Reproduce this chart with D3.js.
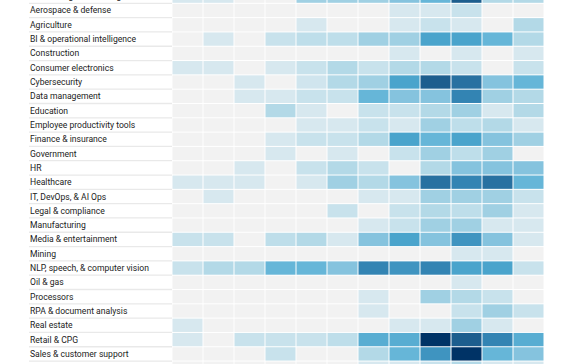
<!DOCTYPE html>
<html>
<head>
<meta charset="utf-8">
<script src="https://cdn.jsdelivr.net/npm/d3@7"></script>
<style>
  html, body { margin: 0; padding: 0; background: #fff; overflow: hidden; }
  svg { display: block; }
</style>
</head>
<body>
<div id="chart"></div>
<script>
const categories = [
  "Advertising & marketing",
  "Aerospace & defense",
  "Agriculture",
  "BI & operational intelligence",
  "Construction",
  "Consumer electronics",
  "Cybersecurity",
  "Data management",
  "Education",
  "Employee productivity tools",
  "Finance & insurance",
  "Government",
  "HR",
  "Healthcare",
  "IT, DevOps, & AI Ops",
  "Legal & compliance",
  "Manufacturing",
  "Media & entertainment",
  "Mining",
  "NLP, speech, & computer vision",
  "Oil & gas",
  "Processors",
  "RPA & document analysis",
  "Real estate",
  "Retail & CPG",
  "Sales & customer support",
  "Semiconductors"
];

const periods = ["P1","P2","P3","P4","P5","P6","P7","P8","P9","P10","P11","P12"];

const values = [
  [1,1,0,0,4,4,4,5,6,9,3,3],
  [0,0,0,0,0,0,0,1,1,2,0,0],
  [0,0,0,0,1,0,0,1,2,1,0,3],
  [0,1,0,2,2.5,2.5,4,4,7,7,6,3],
  [0,0,0,0,0,0,0,1,0,1,0,1],
  [1,1,0,1,2,3,2,3,3,2,0,2],
  [0,0,1,0,1.5,3,4,7,9,8.5,5,6],
  [0,0,1,1,2,2,6,5,5,8,4,3],
  [0,0,0,3,1,0,2,2,3,4,1,3],
  [0,0,0,0,1,1,2,1,4,2.5,3,1],
  [0,0,0,1,2,2,3,7,6,7,5,4],
  [0,0,0,1,0,1,0,2,4,2.5,4,0],
  [0,0,1,0,2,3,2,0,3,5,5,5],
  [1,1,1,0,1,4,3,5,8.5,8,8.5,6],
  [0,1,0,0,0,0,1,1,4,4,4,2],
  [0,0,0,0,0,2,0,2,3,2.5,4,1],
  [0,0,0,0,0,0,1,2,4,4,1,1],
  [2,2,0,2.5,3,1,5,7,5,7.5,5,1],
  [0,0,0,0,0,0,0,0,0,1,1,0],
  [2,3,3,6,6,5,8,7.5,8,7,7,2],
  [0,0,0,0,0,0,0,0,0,1,0,0],
  [0,0,0,0,0,0,1,0,4,3,2,0],
  [0,0,0,0,0,0,1,0,0,2,4,2],
  [1,0,0,0,0,0,0,1,1,4,1,0],
  [1,0,2,2,2,2.5,6.5,6.5,10,9,8,6.5],
  [0,0,0,2,0,0,3,6,7.5,10,6,5],
  [0,0,0,0,0,0,1,1,2,3,1,1]
];

const W = 572, H = 364;
const rowH = 14.31;
const gridTop = -11;

const svg = d3.select("#chart").append("svg")
  .attr("width", W).attr("height", H);

const x = d3.scaleBand().domain(periods).range([172, 544]);
const y = d3.scaleBand().domain(categories).range([gridTop, gridTop + rowH * categories.length]);

const color = d3.scaleLinear()
  .domain([1,2,3,4,5,6,7,8,9,10])
  .range(["#d7e8ef","#c8e2ec","#b3d9e7","#a0d0e3","#85c3de","#66b6d8","#4aa4cc","#3384b3","#1d5e8e","#003366"])
  .clamp(true);

// label separators
svg.append("g").selectAll("line")
  .data(categories)
  .join("line")
  .attr("x1", 29).attr("x2", 172)
  .attr("y1", d => y(d) + y.bandwidth())
  .attr("y2", d => y(d) + y.bandwidth())
  .attr("stroke", "#e9e9e9")
  .attr("stroke-width", 1.3);

// labels
svg.append("g").selectAll("text")
  .data(categories)
  .join("text")
  .attr("x", 30)
  .attr("y", d => y(d) + y.bandwidth() / 2)
  .attr("dy", "0.35em")
  .attr("font-family", "Roboto, 'Noto Sans', sans-serif")
  .attr("font-size", 8.6)
  .attr("fill", "#222")
  .text(d => d);

// cells
const cells = [];
categories.forEach((c, i) => periods.forEach((p, j) => cells.push({c, p, v: values[i][j]})));

svg.append("g").selectAll("rect")
  .data(cells)
  .join("rect")
  .attr("x", d => x(d.p) + 0.5)
  .attr("y", d => y(d.c) + 0.5)
  .attr("width", x.bandwidth() - 1)
  .attr("height", y.bandwidth() - 1)
  .attr("fill", d => d.v > 0 ? color(d.v) : "#f2f2f2");
</script>
</body>
</html>
